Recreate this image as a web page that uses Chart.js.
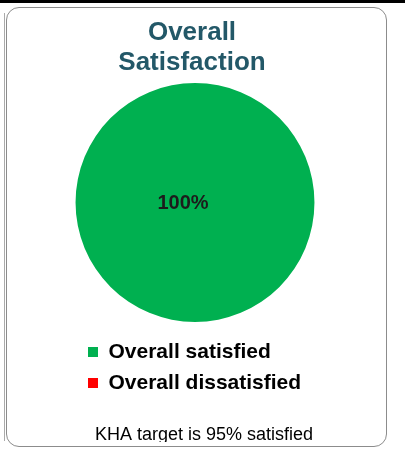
<!DOCTYPE html>
<html>
<head>
<meta charset="utf-8">
<script src="https://cdn.jsdelivr.net/npm/chart.js@4/dist/chart.umd.min.js"></script>
<style>
  html, body { margin: 0; padding: 0; background: #fff; }
  body { width: 405px; height: 451px; position: relative; overflow: hidden; font-family: "Liberation Sans", Arial, sans-serif; }
  #topbar { position: absolute; left: 0; top: 0; width: 405px; height: 3px; background: #000; }
  #leftline { position: absolute; left: 4px; top: 13px; width: 1px; height: 428px; background: #aaa; }
  #frame { position: absolute; left: 6px; top: 7px; width: 381px; height: 440px; box-sizing: border-box; border: 1px solid #8c8c8c; border-radius: 13px; }
  #wrap { position: absolute; left: 7px; top: 8px; width: 379px; height: 434px; overflow: hidden; }
  canvas { display: block; }
</style>
</head>
<body>
<div id="topbar"></div>
<div id="leftline"></div>
<div id="frame"></div>
<div id="wrap"><canvas id="c" width="379" height="440"></canvas></div>
<script>
// ---- data ----
const titleLines = ['Overall', 'Satisfaction'];
const categories = ['Overall satisfied', 'Overall dissatisfied'];
const values = [100, 0];
const footnote = 'KHA target is 95% satisfied';

// ---- styles ----
const sliceColors = ['#00B050', '#FF0000'];
const FONT = '"Liberation Sans", Arial, sans-serif';

const valueLabels = {
  id: 'valueLabels',
  afterDatasetsDraw(chart) {
    const ctx = chart.ctx;
    const meta = chart.getDatasetMeta(0);
    const data = chart.data.datasets[0].data;
    const total = data.reduce((a, b) => a + b, 0);
    ctx.save();
    ctx.font = 'bold 20px ' + FONT;
    ctx.fillStyle = '#1c1c1c';
    ctx.textAlign = 'center';
    ctx.textBaseline = 'middle';
    meta.data.forEach((arc, i) => {
      const v = data[i];
      if (!v) return;
      let x, y;
      if (v === total) { x = arc.x - 12; y = arc.y + 1; }
      else { const p = arc.tooltipPosition(); x = p.x; y = p.y; }
      ctx.fillText(v + '%', x, y);
    });
    ctx.restore();
  }
};

const shiftBoxes = {
  id: 'shiftBoxes',
  afterLayout(chart) {
    const lg = chart.legend;
    if (lg) { lg.left += 71; lg.right += 71; }
    if (chart.titleBlock) { chart.titleBlock.left -= 3; chart.titleBlock.right -= 3; }
    const sub = chart.boxes.find(b => b !== chart.titleBlock && b !== lg && b.options && b.options.text === footnote);
    if (sub) { sub.left += 9; sub.right += 9; }
  }
};

new Chart(document.getElementById('c'), {
  type: 'pie',
  data: {
    labels: categories,
    datasets: [{
      data: values,
      backgroundColor: sliceColors,
      borderWidth: 0,
      radius: '92.6%'
    }]
  },
  options: {
    responsive: false,
    animation: false,
    layout: { padding: { left: 0, right: 3, top: 0, bottom: 0 } },
    plugins: {
      title: {
        display: true,
        text: titleLines,
        color: '#235868',
        font: { family: FONT, size: 26, weight: 'bold', lineHeight: 30.5 / 26 },
        padding: { top: 9.25, bottom: -4.75 }
      },
      subtitle: {
        display: true,
        position: 'bottom',
        text: footnote,
        color: '#000',
        font: { family: FONT, size: 18, weight: 'normal', lineHeight: 1.2 },
        padding: { top: 20.7, bottom: 2.2 }
      },
      legend: {
        display: true,
        position: 'bottom',
        align: 'start',
        labels: {
          boxWidth: 10,
          boxHeight: 10,
          padding: 10,
          color: '#000',
          font: { family: FONT, size: 21, weight: 'bold' }
        }
      },
      tooltip: { enabled: false }
    }
  },
  plugins: [valueLabels, shiftBoxes]
});
</script>
</body>
</html>
